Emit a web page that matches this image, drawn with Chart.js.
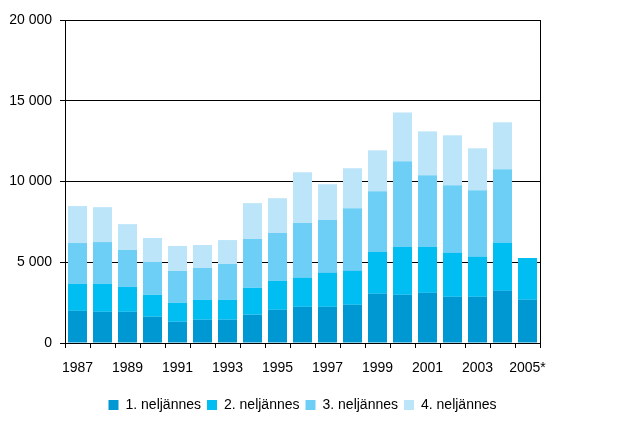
<!DOCTYPE html>
<html>
<head>
<meta charset="utf-8">
<script src="https://cdn.jsdelivr.net/npm/chart.js@4.4.0/dist/chart.umd.min.js"></script>
<style>
html,body{margin:0;padding:0;background:#fff;}
#wrap{width:636px;height:423px;position:relative;}
</style>
</head>
<body>
<div id="wrap"><canvas id="c" width="636" height="423"></canvas></div>
<script>
const categories = ['1987','1988','1989','1990','1991','1992','1993','1994','1995','1996','1997','1998','1999','2000','2001','2002','2003','2004','2005*'];
const q1 = [1990,1930,1930,1625,1315,1440,1440,1750,2055,2240,2240,2365,3045,2985,3105,2860,2860,3230,2675];
const q2 = [1670,1730,1545,1360,1170,1230,1230,1665,1790,1790,2100,2100,2590,2960,2840,2715,2470,2965,2590];
const q3 = [2530,2590,2285,2035,1975,1975,2225,3025,2965,3395,3270,3885,3765,5310,4445,4195,4135,4565,null];
const q4 = [2290,2160,1600,1480,1545,1425,1480,2220,2155,3150,2220,2470,2530,3020,2715,3090,2590,2905,null];
const seriesNames = ['1. neljännes','2. neljännes','3. neljännes','4. neljännes'];
const seriesColors = ['#0098d2','#00bdf2','#6dcff6','#bce5f9'];
const yTicks = [0,5000,10000,15000,20000];

Chart.defaults.font.family = "'Liberation Sans', Arial, sans-serif";
Chart.defaults.font.size = 14;
Chart.defaults.color = '#000';

const fmt = v => String(v).replace(/\B(?=(\d{3})+(?!\d))/g, ' ');

new Chart(document.getElementById('c'), {
  type: 'bar',
  data: {
    labels: categories,
    datasets: [q1,q2,q3,q4].map((d,i)=>({
      label: seriesNames[i],
      data: d,
      backgroundColor: seriesColors[i],
      borderWidth: 0,
      categoryPercentage: 1,
      barPercentage: 0.76
    }))
  },
  options: {
    responsive: false,
    animation: false,
    devicePixelRatio: 1,
    layout: { padding: { left: 0, right: 96, top: 20, bottom: 1 } },
    plugins: {
      tooltip: { enabled: false },
      legend: {
        position: 'bottom',
        fullSize: false,
        labels: { boxWidth: 10, boxHeight: 10, padding: 6, color: '#000', font: { size: 14 } }
      }
    },
    scales: {
      x: {
        stacked: true,
        afterFit: s => { s.height = 49; },
        grid: { display: true, drawOnChartArea: false, drawTicks: true, tickLength: 5, color: '#000', offset: true },
        border: { display: true, color: '#000', width: 1 },
        ticks: {
          autoSkip: false, maxRotation: 0, padding: 12, color: '#000',
          callback: function(v, i) { return i % 2 === 0 ? categories[i] : ''; }
        }
      },
      y: {
        stacked: true,
        min: yTicks[0], max: yTicks[yTicks.length-1],
        afterBuildTicks: s => { s.ticks = yTicks.map(v => ({ value: v })); },
        afterFit: s => { s.width = 65; },
        grid: { color: '#000', tickLength: 5, lineWidth: 1 },
        border: { display: true, color: '#000', width: 1 },
        ticks: { padding: 8, color: '#000', callback: v => fmt(v) }
      },
      y2: {
        position: 'right',
        display: true,
        afterFit: s => { s.width = 0; },
        grid: { drawOnChartArea: false, drawTicks: false },
        border: { display: true, color: '#000', width: 1 },
        ticks: { display: false }
      }
    }
  }
});
</script>
</body>
</html>
